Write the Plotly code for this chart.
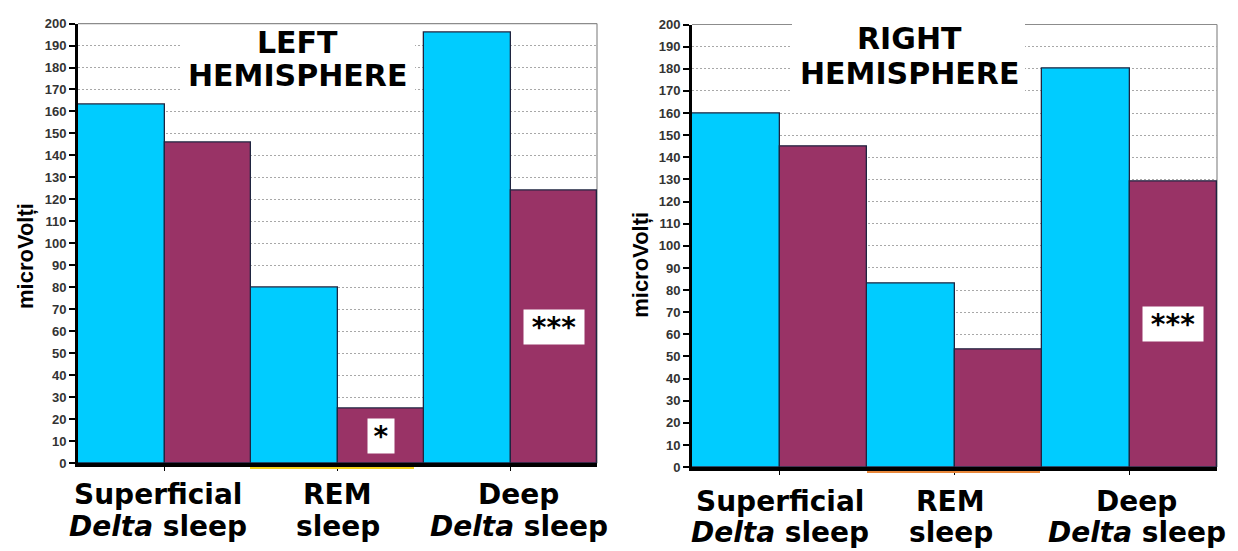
import plotly.graph_objects as go

# ---- data -------------------------------------------------------------
categories = ["Superficial Delta sleep", "REM sleep", "Deep Delta sleep"]
cat_line1 = ["Superficial", "REM", "Deep"]
cat_line2 = ["<i>Delta</i> sleep", "sleep", "<i>Delta</i> sleep"]

left_blue = [163, 80, 196]
left_red = [146, 25, 124]
right_blue = [160, 83, 180]
right_red = [145, 53, 129]

left_sig = ["", "*", "***"]
right_sig = ["", "", "***"]

panel_titles = [("LEFT", "HEMISPHERE"), ("RIGHT", "HEMISPHERE")]
y_title = "microVolți"
y_ticks = list(range(0, 201, 10))

# ---- page geometry ----------------------------------------------------
W, H = 1238, 551
BLUE = "#00CCFF"
RED = "#993366"
OUTLINE = "#1f2540"
SANS = "Liberation Sans, Arial, sans-serif"
WIDE = "DejaVu Sans, Verdana, sans-serif"


def px(x):
    return x / W


def py(y):
    return 1 - y / H


panels = [
    dict(xa="x", ya="y", x0=78, x1=597, y0=469, y1=17,
         blue=left_blue, red=left_red, sig=left_sig, title=panel_titles[0],
         title_cx=297, title_rows=(36, 70), box=(180, 415, 22, 100),
         lab_rows=(501, 534), lab_shift=(-7, 0, 8),
         ytitle_x=25, ytitle_y=256, underline=(250, 414, 474, "#f2d21a")),
    dict(xa="x2", ya="y2", x0=692, x1=1217, y0=473, y1=18,
         blue=right_blue, red=right_red, sig=right_sig, title=panel_titles[1],
         title_cx=909, title_rows=(32, 68), box=(792, 1025, 4, 98),
         lab_rows=(508, 540), lab_shift=(0, -4, 7),
         ytitle_x=641, ytitle_y=265, underline=(867, 1040, 478, "#e8873a")),
]

fig = go.Figure()
shapes = []
annotations = []
layout_axes = {}

for k, p in enumerate(panels):
    suffix = "" if k == 0 else str(k + 1)
    for vals, col in ((p["blue"], BLUE), (p["red"], RED)):
        fig.add_trace(go.Bar(
            x=categories, y=vals, xaxis=p["xa"], yaxis=p["ya"],
            marker=dict(color=col, line=dict(color=OUTLINE, width=1.3)),
            showlegend=False, hoverinfo="x+y",
        ))

    layout_axes["xaxis" + suffix] = dict(
        domain=[px(p["x0"]), px(p["x1"])], anchor=p["ya"],
        type="category", range=[-0.5, 2.5], showticklabels=False,
        showgrid=False, zeroline=False, showline=True,
        linecolor="black", linewidth=4,
        ticks="outside", ticklen=4, tickwidth=1, tickcolor="black",
        fixedrange=True,
    )
    layout_axes["yaxis" + suffix] = dict(
        domain=[py(p["y0"]), py(p["y1"])], anchor=p["xa"],
        range=[0, 200], tickvals=y_ticks,
        ticktext=["<b>%d</b>" % t for t in y_ticks],
        showgrid=True, gridcolor="#a8a8a8", griddash="2px,2px", gridwidth=1,
        zeroline=False, showline=True, linecolor="black", linewidth=3,
        ticks="outside", ticklen=6, tickwidth=2, tickcolor="black",
        tickfont=dict(family=SANS, size=13, color="#333333", weight=700),
        fixedrange=True,
    )

    # plot frame: grey top and right edges
    shapes.append(dict(type="line", xref="paper", yref="paper", layer="below",
                       x0=px(p["x1"]), x1=px(p["x1"]), y0=py(p["y0"]), y1=py(p["y1"]),
                       line=dict(color="#8c8c8c", width=1.2)))
    shapes.append(dict(type="line", xref="paper", yref="paper", layer="above",
                       x0=px(p["x0"]), x1=px(p["x1"]), y0=py(p["y1"]), y1=py(p["y1"]),
                       line=dict(color="#8c8c8c", width=1.2)))
    # white panel behind the hemisphere title
    bx0, bx1, by0, by1 = p["box"]
    shapes.append(dict(type="rect", xref="paper", yref="paper", layer="above",
                       x0=px(bx0), x1=px(bx1), y0=py(by1), y1=py(by0),
                       fillcolor="white", line=dict(width=0)))
    # thin coloured rule under the REM group
    ux0, ux1, uy, ucol = p["underline"]
    shapes.append(dict(type="line", xref="paper", yref="paper", layer="above",
                       x0=px(ux0), x1=px(ux1), y0=py(uy), y1=py(uy),
                       line=dict(color=ucol, width=2)))

    # hemisphere title
    for text, row in zip(p["title"], p["title_rows"]):
        annotations.append(dict(
            xref="paper", yref="paper", x=px(p["title_cx"]), y=py(row),
            xanchor="center", yanchor="middle", showarrow=False,
            text="<b>%s</b>" % text,
            font=dict(family=WIDE, size=30, color="black", weight=700),
        ))

    # y-axis title
    annotations.append(dict(
        xref="paper", yref="paper", x=px(p["ytitle_x"]), y=py(p["ytitle_y"]),
        xanchor="center", yanchor="middle", showarrow=False, textangle=-90,
        text="<b>%s</b>" % y_title,
        font=dict(family=SANS, size=22, color="black", weight=700),
    ))

    # category labels (two lines each)
    for i in range(len(categories)):
        for text, row in zip((cat_line1[i], cat_line2[i]), p["lab_rows"]):
            annotations.append(dict(
                xref=p["xa"], yref="paper", x=i, y=py(row),
                xshift=p["lab_shift"][i],
                xanchor="center", yanchor="middle", showarrow=False,
                text="<b>%s</b>" % text,
                font=dict(family=WIDE, size=28, color="black", weight=700),
            ))

    # significance marks on the second bar of each group
    for i, s in enumerate(p["sig"]):
        if not s:
            continue
        w = 26 if len(s) == 1 else 60
        annotations.append(dict(
            xref=p["xa"], yref=p["ya"], x=i + 0.25, y=p["red"][i] / 2,
            xanchor="center", yanchor="middle", showarrow=False,
            text="<b>%s</b>" % s,
            bgcolor="white", width=w, height=34, borderpad=0,
            font=dict(family=WIDE, size=28, color="black", weight=700),
        ))

fig.update_layout(
    width=W, height=H,
    margin=dict(l=0, r=0, t=0, b=0),
    paper_bgcolor="white", plot_bgcolor="rgba(0,0,0,0)",
    barmode="group", bargap=0, bargroupgap=0,
    shapes=shapes, annotations=annotations,
    **layout_axes,
)

fig.write_html("out.html")
